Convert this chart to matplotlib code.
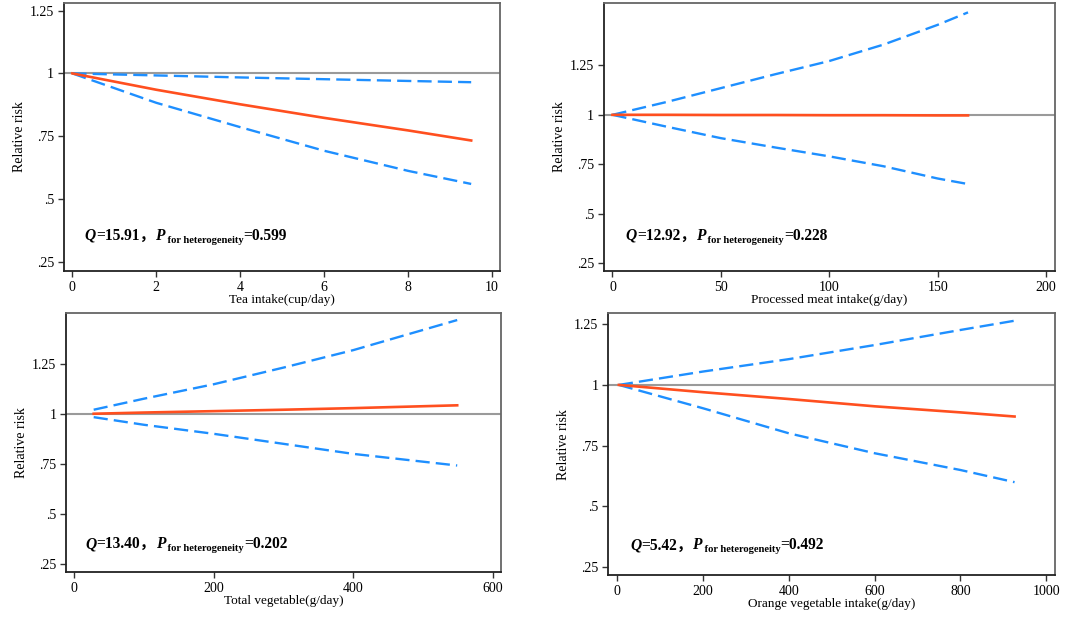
import numpy as np
import matplotlib
matplotlib.use("Agg")
import matplotlib.pyplot as plt

plt.rcParams['font.family'] = ['Liberation Serif', 'Noto Sans CJK SC']

# Tea intake (cup/day)
tea_x = [0, 2, 4, 6, 8, 9.5]
tea_rr = [1.0, 0.935, 0.877, 0.823, 0.773, 0.733]
tea_lo = [1.0, 0.883, 0.786, 0.692, 0.612, 0.560]
tea_hi = [1.0, 0.992, 0.984, 0.977, 0.970, 0.965]

# Processed meat intake (g/day)
meat_x = [0, 25, 50, 75, 100, 125, 150, 164]
meat_rr = [1.0, 1.0, 0.999, 0.999, 0.998, 0.998, 0.997, 0.997]
meat_lo = [1.0, 0.940, 0.882, 0.835, 0.790, 0.740, 0.678, 0.650]
meat_hi = [1.0, 1.065, 1.135, 1.205, 1.272, 1.355, 1.455, 1.518]

# Total vegetable (g/day)
veg_x = [28, 100, 200, 300, 400, 549]
veg_rr = [1.0, 1.006, 1.013, 1.020, 1.028, 1.042]
veg_lo = [0.983, 0.945, 0.900, 0.850, 0.800, 0.742]
veg_hi = [1.020, 1.075, 1.147, 1.230, 1.317, 1.467]

# Orange vegetable intake (g/day)
org_x = [4, 200, 400, 600, 800, 926]
org_rr = [1.0, 0.970, 0.942, 0.912, 0.887, 0.870]
org_lo = [1.0, 0.904, 0.801, 0.719, 0.650, 0.600]
org_hi = [1.0, 1.055, 1.106, 1.164, 1.226, 1.264]

panels = [
    dict(x=tea_x, rr=tea_rr, lo=tea_lo, hi=tea_hi, q="15.91", p="0.599",
         xlabel="Tea intake(cup/day)", xticks=[0, 2, 4, 6, 8, 10],
         xlim=(-0.2, 10.18), ylim=(0.214, 1.28),
         yticks=[0.25, 0.5, 0.75, 1, 1.25],
         rect=[0.059, 0.561, 0.402, 0.434], tx=0.048, ty=0.116),
    dict(x=meat_x, rr=meat_rr, lo=meat_lo, hi=meat_hi, q="12.92", p="0.228",
         xlabel="Processed meat intake(g/day)", xticks=[0, 50, 100, 150, 200],
         xlim=(-4, 204), ylim=(0.211, 1.565),
         yticks=[0.25, 0.5, 0.75, 1, 1.25],
         rect=[0.557, 0.561, 0.416, 0.434], tx=0.049, ty=0.116),
    dict(x=veg_x, rr=veg_rr, lo=veg_lo, hi=veg_hi, q="13.40", p="0.202",
         xlabel="Total vegetable(g/day)", xticks=[0, 200, 400, 600],
         xlim=(-11.5, 611.5), ylim=(0.2115, 1.503),
         yticks=[0.25, 0.5, 0.75, 1, 1.25],
         rect=[0.061, 0.073, 0.401, 0.42], tx=0.044, ty=0.092),
    dict(x=org_x, rr=org_rr, lo=org_lo, hi=org_hi, q="5.42", p="0.492",
         xlabel="Orange vegetable intake(g/day)", xticks=[0, 200, 400, 600, 800, 1000],
         xlim=(-21, 1019.6), ylim=(0.218, 1.294),
         yticks=[0.25, 0.5, 0.75, 1, 1.25],
         rect=[0.561, 0.068, 0.412, 0.424], tx=0.049, ty=0.098),
]

RED = "#FF4F1F"
BLUE = "#1E8FFF"


def fmt_tick(v):
    s = f"{v:g}"
    if s.startswith("0."):
        s = s[1:]
    return s


fig = plt.figure(figsize=(10.84, 6.17), dpi=100)
renderer = fig.canvas.get_renderer()

for p in panels:
    ax = fig.add_axes(p["rect"])
    ax.axhline(1, color="#9a9a9a", lw=1.5, zorder=1)
    ax.plot(p["x"], p["hi"], color=BLUE, lw=1.7, ls=(0, (6, 2.6)), zorder=2)
    ax.plot(p["x"], p["lo"], color=BLUE, lw=1.7, ls=(0, (6, 2.6)), zorder=2)
    ax.plot(p["x"], p["rr"], color=RED, lw=1.9, zorder=3)
    ax.set_xlim(*p["xlim"])
    ax.set_ylim(*p["ylim"])
    ax.set_xticks(p["xticks"])
    ax.set_xticklabels([fmt_tick(v) for v in p["xticks"]])
    ax.set_yticks(p["yticks"])
    ax.set_yticklabels([fmt_tick(v) for v in p["yticks"]])
    ax.tick_params(direction="out", length=4, width=1, labelsize=10, pad=3,
                   color="#333333")
    ax.set_xlabel(p["xlabel"], fontsize=9.5, labelpad=0)
    ax.set_ylabel("Relative risk", fontsize=10, labelpad=3)
    for side in ["top", "right"]:
        ax.spines[side].set_color("#666666")
    for side in ["bottom", "left"]:
        ax.spines[side].set_color("#222222")
    for s in ax.spines.values():
        s.set_linewidth(1.3)

    # annotation built from pieces
    pieces = [
        ("Q", dict(fontweight="bold", fontstyle="italic", fontsize=11.2), 0),
        ("=" + p["q"] + "，", dict(fontweight="bold", fontsize=11.2), 0),
        ("P", dict(fontweight="bold", fontstyle="italic", fontsize=11.2), 0),
        (" for heterogeneity", dict(fontweight="bold", fontsize=7.6), -3),
        ("=" + p["p"], dict(fontweight="bold", fontsize=11.2), 0),
    ]
    offset = 0
    for txt, kw, dy in pieces:
        t = ax.annotate(txt, xy=(p["tx"], p["ty"]), xycoords="axes fraction",
                        xytext=(offset, dy), textcoords="offset pixels",
                        ha="left", va="baseline", **kw)
        offset += t.get_window_extent(renderer).width

fig.savefig("out.png", dpi=100)
